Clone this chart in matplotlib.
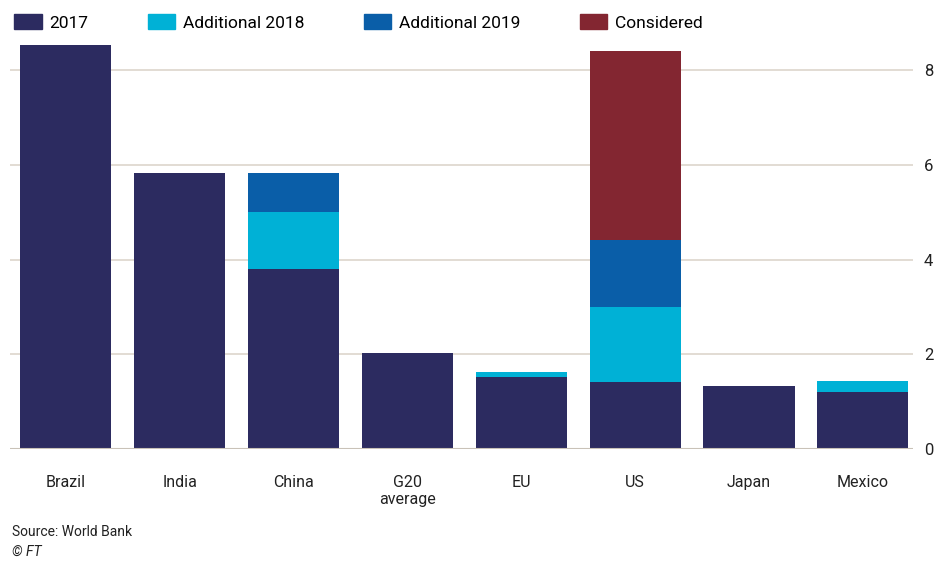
import numpy as np
import matplotlib.pyplot as plt
from matplotlib.patches import Patch

plt.rcParams['font.family'] = ['Roboto', 'DejaVu Sans']

countries = ['Brazil', 'India', 'China', 'G20\naverage', 'EU', 'US', 'Japan', 'Mexico']
base2017 = [8.53, 5.83, 3.81, 2.02, 1.52, 1.41, 1.33, 1.20]
add2018 = [0, 0, 1.20, 0, 0.10, 1.60, 0, 0.23]
add2019 = [0, 0, 0.82, 0, 0, 1.41, 0, 0]
considered = [0, 0, 0, 0, 0, 4.00, 0, 0]

series = [base2017, add2018, add2019, considered]
labels = ['2017', 'Additional 2018', 'Additional 2019', 'Considered']
colors = ['#2c2b60', '#00b1d6', '#0a5ea8', '#832631']

fig = plt.figure(figsize=(9.5, 5.83), dpi=100)
ax = fig.add_axes([10/950, 1-449/583, 903/950, 414/583])

x = np.arange(len(countries))
bottom = np.zeros(len(countries))
for vals, c in zip(series, colors):
    ax.bar(x, vals, width=0.8, bottom=bottom, color=c, zorder=3)
    bottom += np.array(vals)

ax.set_xlim(-0.49, 7.44)
ax.set_ylim(0, 8.75)
ax.set_yticks([0, 2, 4, 6, 8])
ax.yaxis.tick_right()
ax.grid(axis='y', color='#ddd6cc', lw=1.2, zorder=0)
ax.axhline(0, color='#c9c2b8', lw=1.5, zorder=4)
for s in ax.spines.values():
    s.set_visible(False)
ax.tick_params(axis='y', length=0, pad=8, labelsize=12, colors='#222222')
ax.set_xticks(x)
ax.set_xticklabels(countries, fontsize=11.5, color='#222222', linespacing=1.1)
ax.tick_params(axis='x', length=0, pad=19)

handles = [Patch(color=c) for c in colors]
fig.legend(handles, labels, loc='upper left', bbox_to_anchor=(0.0, 1.0), ncol=4,
           frameon=False, fontsize=12.5, handlelength=1.6, handleheight=1.0,
           handletextpad=0.45, columnspacing=3.4, borderaxespad=0.4)

fig.text(12/950, 1-532/583, 'Source: World Bank', fontsize=10, va='center', color='#222222')
fig.text(12/950, 1-552/583, '© FT', fontsize=10, va='center', style='italic', color='#222222')

fig.savefig('out.png', dpi=100)
